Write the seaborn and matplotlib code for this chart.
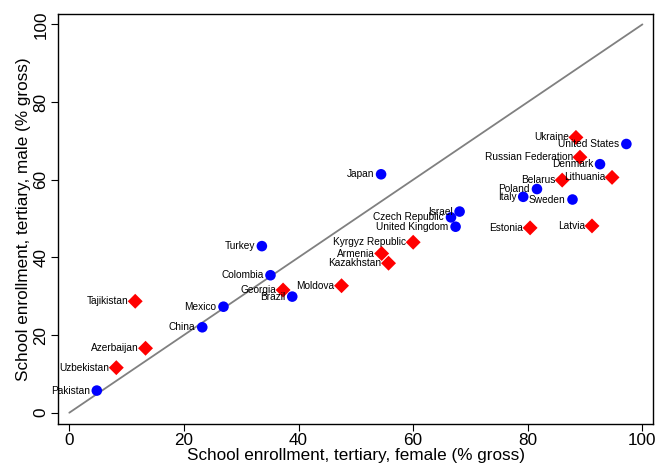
import numpy as np
import pandas as pd
from matplotlib import pyplot as plt
import seaborn as sns

# tertiary school enrollment, % gross
countries = ['United States', 'Denmark', 'Poland', 'Italy', 'Sweden', 'Israel',
             'Czech Republic', 'United Kingdom', 'Japan', 'Turkey', 'Colombia',
             'Brazil', 'Mexico', 'China', 'Pakistan',
             'Ukraine', 'Russian Federation', 'Lithuania', 'Belarus', 'Estonia',
             'Latvia', 'Kyrgyz Republic', 'Armenia', 'Kazakhstan', 'Moldova',
             'Georgia', 'Tajikistan', 'Azerbaijan', 'Uzbekistan']
female = [97.2, 92.6, 81.6, 79.2, 87.8, 68.1, 66.6, 67.4, 54.4, 33.6, 35.1,
          38.9, 26.9, 23.2, 4.8,
          88.4, 89.1, 94.7, 86.0, 80.4, 91.2, 60.0, 54.5, 55.7, 47.5, 37.3,
          11.5, 13.3, 8.2]
male = [69.2, 64.0, 57.6, 55.6, 54.9, 51.8, 50.3, 47.9, 61.4, 42.9, 35.4,
        29.9, 27.3, 22.0, 5.7,
        70.9, 65.8, 60.6, 59.9, 47.6, 48.1, 43.9, 41.0, 38.5, 32.7, 31.6,
        28.7, 16.6, 11.6]
group = ['other'] * 15 + ['post-soviet'] * 14

df = pd.DataFrame({'country': countries, 'female': female, 'male': male, 'group': group})

sns.set_style('ticks')
plt.rcParams['font.family'] = ['Liberation Sans', 'DejaVu Sans']
plt.rcParams['text.color'] = 'black'
plt.rcParams['axes.labelcolor'] = 'black'
plt.rcParams['xtick.color'] = 'black'
plt.rcParams['ytick.color'] = 'black'

fig = plt.figure(figsize=(6.58, 4.70), dpi=100)
ax = fig.add_axes([0.0886, 0.0985, 0.9034, 0.8715])

##----------------------------------------------------------------------------##
## 45 degree line + points
##----------------------------------------------------------------------------##
ax.plot([0, 100], [0, 100], color='#808080', lw=1.3, zorder=1)
sns.scatterplot(data=df, x='female', y='male', hue='group', style='group',
                markers={'other': 'o', 'post-soviet': 'D'},
                palette={'other': '#0000FF', 'post-soviet': '#FF0000'},
                s=58, edgecolor='none', legend=False, ax=ax, zorder=3)

for i in range(len(df)):
    ax.annotate(df.country[i], (df.female[i], df.male[i]), xytext=(-5, 0),
                textcoords='offset points', ha='right', va='center',
                fontsize=7.3, color='black', zorder=4)

ax.set_xlim(-1.92, 101.8)
ax.set_ylim(-2.83, 102.65)
ax.set_xticks(np.arange(0, 101, 20))
ax.set_yticks(np.arange(0, 101, 20))
for t in ax.get_yticklabels():
    t.set_rotation(90)
    t.set_va('center')
ax.tick_params(labelsize=12.3, length=5, width=0.8, color='black', pad=2)
ax.set_xlabel('School enrollment, tertiary, female (% gross)', fontsize=12.3, labelpad=0)
ax.set_ylabel('School enrollment, tertiary, male (% gross)', fontsize=12.3, labelpad=2)
for sp in ax.spines.values():
    sp.set_visible(True)
    sp.set_color('black')
    sp.set_linewidth(1.0)

plt.savefig('out.png', dpi=100)
